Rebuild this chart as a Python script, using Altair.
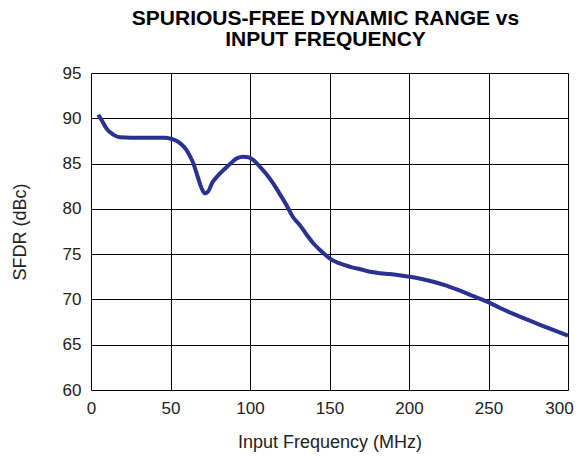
import altair as alt
import pandas as pd

freq = [4.6, 7, 10, 14, 18, 25, 35, 46.5, 50, 54, 57, 60, 62, 64.4, 67, 69.5, 71.7, 74, 76, 78, 81, 85.3, 89, 92, 95.8, 99, 102, 106, 110.5, 115, 118.9, 123, 127, 131.4, 135, 139.8, 145, 150.3, 156, 163, 170, 175.5, 182, 188, 195, 200.6, 208, 215.3, 222, 230, 240, 249.9, 258, 265.6, 274, 282.4, 291, 300]
sfdr = [90.4, 89.7, 88.8, 88.2, 87.9, 87.85, 87.85, 87.85, 87.75, 87.5, 87.1, 86.5, 85.9, 85.0, 83.6, 82.3, 81.7, 82.0, 82.8, 83.3, 83.9, 84.6, 85.2, 85.6, 85.75, 85.7, 85.4, 84.7, 83.8, 82.7, 81.6, 80.4, 79.1, 78.2, 77.3, 76.2, 75.3, 74.5, 74.0, 73.6, 73.3, 73.05, 72.9, 72.8, 72.65, 72.5, 72.25, 71.95, 71.6, 71.1, 70.4, 69.7, 69.0, 68.4, 67.8, 67.2, 66.6, 66.0]

x_ticks = [0, 50, 100, 150, 200, 250, 300]
y_ticks = [60, 65, 70, 75, 80, 85, 90, 95]

df = pd.DataFrame({"freq": freq, "sfdr": sfdr})

line = alt.Chart(df).mark_line(color="#2B3190", strokeWidth=4, interpolate="monotone").encode(
    x=alt.X("freq:Q",
            scale=alt.Scale(domain=[0, 300], nice=False),
            axis=alt.Axis(values=x_ticks, title="Input Frequency (MHz)", grid=True,
                          gridColor="#000000", gridWidth=1, gridOpacity=1,
                          domain=False, ticks=False, labelPadding=10,
                          labelOffset={"condition": {"test": "datum.value == 300", "value": -9}, "value": 0},
                          labelFont="Liberation Sans", labelFontSize=17, labelColor="#222222",
                          titleFont="Liberation Sans", titleFontSize=18, titleFontWeight="normal",
                          titleColor="#222222", titlePadding=17, labelFlush=False)),
    y=alt.Y("sfdr:Q",
            scale=alt.Scale(domain=[60, 95], nice=False, zero=False),
            axis=alt.Axis(values=y_ticks, title="SFDR (dBc)", grid=True,
                          gridColor="#000000", gridWidth=1, gridOpacity=1,
                          domain=False, ticks=False, labelPadding=10,
                          labelFont="Liberation Sans", labelFontSize=17, labelColor="#222222",
                          titleFont="Liberation Sans", titleFontSize=18, titleFontWeight="normal",
                          titleColor="#222222", titlePadding=33, labelFlush=False)),
)

chart = line.properties(
    width=477,
    height=317,
    title=alt.TitleParams(
        text=["SPURIOUS-FREE DYNAMIC RANGE vs", "INPUT FREQUENCY"],
        font="Liberation Sans", fontSize=21, fontWeight="bold", color="#000000",
        anchor="middle", offset=14, lineHeight=21, dx=-4,
    ),
    padding={"left": 83, "top": 65, "right": 6, "bottom": 62},
    autosize=alt.AutoSizeParams(type="none"),
).configure_view(
    stroke="#333333", strokeWidth=2
).configure(background="white")

chart.save("out.html", embed_options={"renderer": "svg", "actions": False})
